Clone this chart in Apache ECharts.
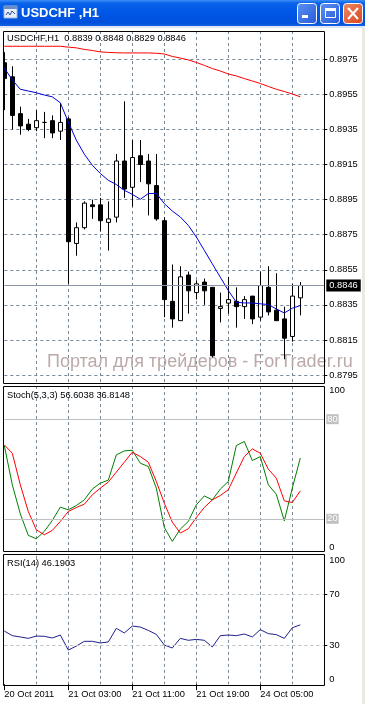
<!DOCTYPE html>
<html><head><meta charset="utf-8">
<script src="https://cdn.jsdelivr.net/npm/echarts@6/dist/echarts.min.js"></script>
<style>html,body{margin:0;padding:0;background:#fff;}#c{width:365px;height:704px;}</style>
</head><body><div id="c"></div>
<script>
// ---------------- data ----------------
const symbol = 'USDCHF,H1';
const windowTitle = 'USDCHF ,H1';
const watermark = 'Портал для трейдеров - ForTrader.ru';

const times = [
  '20 Oct 19:00','20 Oct 20:00','20 Oct 21:00','20 Oct 22:00','20 Oct 23:00',
  '21 Oct 00:00','21 Oct 01:00','21 Oct 02:00','21 Oct 03:00','21 Oct 04:00',
  '21 Oct 05:00','21 Oct 06:00','21 Oct 07:00','21 Oct 08:00','21 Oct 09:00',
  '21 Oct 10:00','21 Oct 11:00','21 Oct 12:00','21 Oct 13:00','21 Oct 14:00',
  '21 Oct 15:00','21 Oct 16:00','21 Oct 17:00','21 Oct 18:00','21 Oct 19:00',
  '21 Oct 20:00','21 Oct 21:00','21 Oct 22:00','21 Oct 23:00','24 Oct 02:00',
  '24 Oct 03:00','24 Oct 04:00','24 Oct 05:00','24 Oct 06:00','24 Oct 07:00',
  '24 Oct 08:00','24 Oct 09:00','24 Oct 10:00'
];
const shiftSlots = ['', '', ''];   // empty chart-shift space on the right

const opens  = [0.8973,0.8965,0.8944,0.8938,0.8936,0.8939,0.8940,0.8934,0.8941,0.8870,
                0.8879,0.8892,0.8892,0.8882,0.8885,0.8917,0.8902,0.8920,0.8917,0.8903,
                0.8883,0.8837,0.8826,0.8852,0.8842,0.8848,0.8845,0.8833,0.8836,0.8837,
                0.8834,0.8840,0.8828,0.8845,0.8832,0.8827,0.8817,0.8839];
const highs  = [0.8979,0.8971,0.8948,0.8941,0.8946,0.8945,0.8943,0.8950,0.8942,0.8882,
                0.8894,0.8895,0.8896,0.8894,0.8921,0.8951,0.8929,0.8929,0.8921,0.8921,
                0.8885,0.8858,0.8857,0.8854,0.8849,0.8850,0.8845,0.8842,0.8851,0.8845,
                0.8840,0.8840,0.8854,0.8857,0.8853,0.8834,0.8847,0.8848];
const lows   = [0.8946,0.8935,0.8932,0.8934,0.8934,0.8930,0.8930,0.8929,0.8847,0.8863,
                0.8878,0.8884,0.8877,0.8866,0.8882,0.8896,0.8891,0.8905,0.8886,0.8883,
                0.8828,0.8822,0.8826,0.8830,0.8838,0.8835,0.8805,0.8825,0.8830,0.8822,
                0.8827,0.8824,0.8826,0.8829,0.8826,0.8804,0.8814,0.8829];
const closes = [0.8964,0.8943,0.8937,0.8935,0.8940,0.8939,0.8933,0.8939,0.8871,0.8879,
                0.8893,0.8891,0.8883,0.8884,0.8917,0.8901,0.8919,0.8915,0.8904,0.8884,
                0.8838,0.8827,0.8851,0.8843,0.8847,0.8843,0.8806,0.8834,0.8838,0.8834,
                0.8838,0.8827,0.8846,0.8831,0.8826,0.8816,0.8840,0.8846];

const maFast = [0.89700,0.89632,0.89579,0.89569,0.89559,0.89546,0.89536,0.89502,0.89392,0.89289,
                0.89209,0.89146,0.89099,0.89060,0.89036,0.89003,0.88980,0.88952,0.88984,0.88986,
                0.88927,0.88885,0.88851,0.88803,0.88737,0.88661,0.88584,0.88508,0.88432,0.88365,
                0.88361,0.88361,0.88356,0.88352,0.88327,0.88304,0.88331,0.88346];
const maSlow = [0.89824,0.89824,0.89824,0.89824,0.89824,0.89824,0.89824,0.89824,0.89819,0.89815,
                0.89806,0.89800,0.89792,0.89789,0.89787,0.89786,0.89786,0.89786,0.89786,0.89784,
                0.89780,0.89766,0.89757,0.89746,0.89732,0.89715,0.89697,0.89683,0.89666,0.89655,
                0.89640,0.89626,0.89612,0.89595,0.89579,0.89566,0.89552,0.89536];

const stochMain   = [64.1,40.5,23.0,10.0,8.0,12.4,19.0,27.0,25.4,28.0,
                     31.4,37.9,41.5,43.3,58.5,60.9,61.3,53.5,51.5,38.5,
                     14.8,6.4,13.8,18.4,28.4,33.8,31.4,37.9,42.5,64.1,
                     66.6,55.1,57.5,40.5,34.8,18.8,38.5,56.6038];
const stochSignal = [64.5,59.5,40.5,24.4,13.4,10.4,13.0,18.4,24.4,26.8,
                     28.8,34.4,38.5,42.1,48.1,54.1,60.1,57.5,54.1,42.5,
                     29.4,18.0,11.4,14.0,20.8,26.8,31.4,34.0,37.5,47.5,
                     57.5,62.1,59.5,49.9,44.5,30.8,29.8,36.8148];
const stochLevels = [80, 20];

const rsi = [41.4,37.8,36.8,35.7,37.5,37.3,36.0,38.3,26.6,29.7,
             33.4,33.4,32.1,32.9,43.5,39.9,45.3,44.5,41.9,38.8,
             30.5,28.2,35.7,34.2,34.9,34.2,29.0,37.8,38.3,37.8,
             39.1,36.8,42.5,39.4,38.6,35.7,44.0,46.1903];
const rsiLevels = [70, 30];

const priceTicks = [0.8795,0.8815,0.8835,0.8855,0.8875,0.8895,0.8915,0.8935,0.8955,0.8975];
const priceMin = 0.87899, priceMax = 0.89911;
const stochTicks = [0, 100];
const rsiTicks = [0, 30, 70, 100];
const timeTickIdx = [0, 8, 16, 24, 32];
const timeTickLabels = ['20 Oct 2011','21 Oct 03:00','21 Oct 11:00','21 Oct 19:00','24 Oct 05:00'];

// ---------------- chart ----------------
const FONT = '"Liberation Sans", Arial, sans-serif';
const FS = 9.3;
const GRIDC = '#778899';
const cats = times.concat(shiftSlots);
const last = closes.length - 1;

const grids = [
  {left: 4.3, right: 40.7, top: 31, bottom: 704 - 384, outerBoundsMode: 'none'},
  {left: 4.3, right: 40.7, top: 386, bottom: 704 - 552, outerBoundsMode: 'none'},
  {left: 4.3, right: 40.7, top: 555.8, bottom: 704 - 684.2, outerBoundsMode: 'none'}
];

function xAxis(gi, labels) {
  return {
    type: 'category', gridIndex: gi, data: cats, boundaryGap: false,
    axisLine: {show: false},
    axisTick: labels ? {show: true, length: 6, lineStyle: {color: '#000'},
                        interval: (i) => timeTickIdx.indexOf(i) >= 0} : {show: false},
    axisLabel: labels ? {show: true, interval: (i) => timeTickIdx.indexOf(i) >= 0,
                         formatter: (v, i) => timeTickLabels[timeTickIdx.indexOf(i)] || '',
                         align: 'left', margin: 6, color: '#000', fontSize: FS, fontFamily: FONT}
                      : {show: false},
    splitLine: {show: true, interval: (i) => i > 0 && i % 4 === 0 && i < cats.length - 1,
                lineStyle: {color: GRIDC, type: [3, 3], width: 1}}
  };
}

const labelStyle = {color: '#000', fontSize: FS, fontFamily: FONT, margin: 5};

const option = {
  animation: false,
  backgroundColor: '#ffffff',
  title: [
    {text: symbol + '  ' + [opens[last], highs[last], lows[last], closes[last]].map(v => v.toFixed(4)).join(' '),
     left: 7, top: 33.5, padding: 0},
    {text: 'Stoch(5,3,3) ' + stochMain[last].toFixed(4) + ' ' + stochSignal[last].toFixed(4),
     left: 7, top: 391, padding: 0},
    {text: 'RSI(14) ' + rsi[last].toFixed(4), left: 7, top: 558.5, padding: 0}
  ].map(t => Object.assign(t, {textStyle: {fontSize: FS, fontWeight: 'normal', color: '#000', fontFamily: FONT}})),
  grid: grids,
  xAxis: [xAxis(0, false), xAxis(1, false), xAxis(2, true)],
  yAxis: [
    {type: 'value', gridIndex: 0, position: 'right', min: priceMin, max: priceMax,
     axisLine: {show: false},
     axisTick: {show: true, customValues: priceTicks, length: 3, lineStyle: {color: '#000'}},
     axisLabel: Object.assign({customValues: priceTicks, formatter: v => v.toFixed(4)}, labelStyle),
     splitLine: {show: true, lineStyle: {color: GRIDC, type: [3, 3], width: 1}}},
    {type: 'value', gridIndex: 1, position: 'right', min: 0, max: 100,
     axisLine: {show: false}, axisTick: {show: false},
     axisLabel: Object.assign({customValues: stochTicks, verticalAlignMinLabel: 'bottom', verticalAlignMaxLabel: 'top'}, labelStyle),
     splitLine: {show: false}},
    {type: 'value', gridIndex: 2, position: 'right', min: 0, max: 100,
     axisLine: {show: false},
     axisTick: {show: true, customValues: [30, 70], length: 3, lineStyle: {color: '#000'}},
     axisLabel: Object.assign({customValues: rsiTicks, verticalAlignMinLabel: 'bottom', verticalAlignMaxLabel: 'top'}, labelStyle),
     splitLine: {show: false}}
  ],
  series: [
    {type: 'candlestick', name: symbol, xAxisIndex: 0, yAxisIndex: 0, clip: false,
     barWidth: 4, silent: true, z: 3,
     data: opens.map((o, i) => [o, closes[i], lows[i], highs[i]]),
     itemStyle: {color: '#ffffff', color0: '#000000', borderColor: '#000000', borderColor0: '#000000',
                 borderColorDoji: '#000000', borderWidth: 1}},
    {type: 'line', name: 'MA fast', xAxisIndex: 0, yAxisIndex: 0, data: maFast, showSymbol: false,
     silent: true, z: 4, lineStyle: {color: '#0000dd', width: 1},
     markLine: {symbol: 'none', silent: true, animation: false, precision: 4,
                lineStyle: {color: '#8a96a3', type: 'solid', width: 1},
                label: {position: 'end', distance: 2, formatter: closes[last].toFixed(4),
                        backgroundColor: '#000', color: '#fff', padding: [2, 3, 1, 3],
                        fontSize: FS, fontFamily: FONT},
                data: [{yAxis: closes[last]}]}},
    {type: 'line', name: 'MA slow', xAxisIndex: 0, yAxisIndex: 0, data: maSlow, showSymbol: false,
     silent: true, z: 4, lineStyle: {color: '#ff0000', width: 1}},
    {type: 'line', name: 'Stoch main', xAxisIndex: 1, yAxisIndex: 1, data: stochMain, showSymbol: false,
     silent: true, lineStyle: {color: '#008000', width: 1},
     markLine: {symbol: 'none', silent: true, animation: false,
                lineStyle: {color: '#c0c0c0', type: 'solid', width: 1},
                label: {position: 'end', distance: 2, formatter: p => String(p.value),
                        backgroundColor: '#c0c0c0', color: '#ffffff', padding: [1, 1, 0, 1],
                        fontSize: FS, fontFamily: FONT},
                data: stochLevels.map(v => ({yAxis: v}))}},
    {type: 'line', name: 'Stoch signal', xAxisIndex: 1, yAxisIndex: 1, data: stochSignal, showSymbol: false,
     silent: true, lineStyle: {color: '#ff0000', width: 1}},
    {type: 'line', name: 'RSI', xAxisIndex: 2, yAxisIndex: 2, data: rsi, showSymbol: false,
     silent: true, lineStyle: {color: '#202090', width: 1},
     markLine: {symbol: 'none', silent: true, animation: false,
                lineStyle: {color: '#c0c0c0', type: [3, 3], width: 1},
                label: {show: false},
                data: rsiLevels.map(v => ({yAxis: v}))}}
  ],
  graphic: [
    // watermark
    {type: 'text', z: 1, silent: true,
     style: {text: watermark, x: 47, y: 362, verticalAlign: 'middle',
             font: '18px "Liberation Sans", Arial, sans-serif', fill: '#bba9a9'}},
    // left edge cover (clip of first candle)
    {type: 'rect', z: 50, silent: true, shape: {x: 0, y: 28, width: 3, height: 676}, style: {fill: '#ffffff'}},
    // pane borders
    {type: 'rect', z: 60, silent: true, shape: {x: 3.5, y: 31.5, width: 321, height: 352}, style: {fill: 'none', stroke: '#000', lineWidth: 1}},
    {type: 'rect', z: 60, silent: true, shape: {x: 3.5, y: 386.5, width: 321, height: 165}, style: {fill: 'none', stroke: '#000', lineWidth: 1}},
    {type: 'rect', z: 60, silent: true, shape: {x: 3.5, y: 554.5, width: 321, height: 131}, style: {fill: 'none', stroke: '#000', lineWidth: 1}},
    // right frame edge
    {type: 'rect', z: 60, silent: true, shape: {x: 362, y: 26, width: 3, height: 678}, style: {fill: '#ece9e4'}},
    // window title bar
    {type: 'rect', z: 70, silent: true, shape: {x: 0, y: 0, width: 365, height: 26},
     style: {fill: new echarts.graphic.LinearGradient(0, 0, 0, 1, [
       {offset: 0, color: '#3d8ef7'}, {offset: 0.12, color: '#0a62ea'},
       {offset: 0.5, color: '#0056e6'}, {offset: 0.88, color: '#0050dc'}, {offset: 1, color: '#1460e4'}])}},
    {type: 'rect', z: 70, silent: true, shape: {x: 0, y: 26, width: 365, height: 2}, style: {fill: '#dfe6f2'}},
    // icon
    {type: 'rect', z: 71, silent: true, shape: {x: 4, y: 6, width: 13, height: 12}, style: {fill: '#e8eef8', stroke: '#9fb6d8', lineWidth: 1}},
    {type: 'rect', z: 72, silent: true, shape: {x: 4, y: 6, width: 13, height: 3}, style: {fill: '#6a8fc8'}},
    {type: 'polyline', z: 72, silent: true, shape: {points: [[6, 15], [8, 12], [10, 15], [12, 11], [15, 14]]}, style: {fill: 'none', stroke: '#2a4f9a', lineWidth: 1}},
    {type: 'text', z: 72, silent: true,
     style: {text: windowTitle, x: 21, y: 13.5, verticalAlign: 'middle', fill: '#ffffff',
             font: 'bold 13px "Liberation Sans", Arial, sans-serif', textShadowColor: '#0a2a7a', textShadowOffsetX: 1, textShadowOffsetY: 1, textShadowBlur: 0}},
    // buttons
    {type: 'rect', z: 71, silent: true, shape: {x: 297.5, y: 3.5, width: 19, height: 20, r: 3},
     style: {fill: new echarts.graphic.LinearGradient(0, 0, 1, 1, [{offset: 0, color: '#5b92f5'}, {offset: 1, color: '#2759d6'}]), stroke: '#ffffff', lineWidth: 1}},
    {type: 'rect', z: 72, silent: true, shape: {x: 302, y: 15, width: 6, height: 3}, style: {fill: '#ffffff'}},
    {type: 'rect', z: 71, silent: true, shape: {x: 320.5, y: 3.5, width: 19, height: 20, r: 3},
     style: {fill: new echarts.graphic.LinearGradient(0, 0, 1, 1, [{offset: 0, color: '#5b92f5'}, {offset: 1, color: '#2759d6'}]), stroke: '#ffffff', lineWidth: 1}},
    {type: 'rect', z: 72, silent: true, shape: {x: 325.5, y: 8.5, width: 10, height: 9}, style: {fill: 'none', stroke: '#ffffff', lineWidth: 1}},
    {type: 'rect', z: 72, silent: true, shape: {x: 325, y: 8, width: 11, height: 3}, style: {fill: '#ffffff'}},
    {type: 'rect', z: 71, silent: true, shape: {x: 343.5, y: 3.5, width: 19, height: 20, r: 3},
     style: {fill: new echarts.graphic.LinearGradient(0, 0, 1, 1, [{offset: 0, color: '#f08a64'}, {offset: 1, color: '#d8441c'}]), stroke: '#ffffff', lineWidth: 1}},
    {type: 'line', z: 72, silent: true, shape: {x1: 348, y1: 8, x2: 358, y2: 19}, style: {stroke: '#ffffff', lineWidth: 2}},
    {type: 'line', z: 72, silent: true, shape: {x1: 358, y1: 8, x2: 348, y2: 19}, style: {stroke: '#ffffff', lineWidth: 2}}
  ]
};

const chart = echarts.init(document.getElementById('c'), null, {renderer: 'canvas'});
chart.setOption(option);
</script>
</body></html>
